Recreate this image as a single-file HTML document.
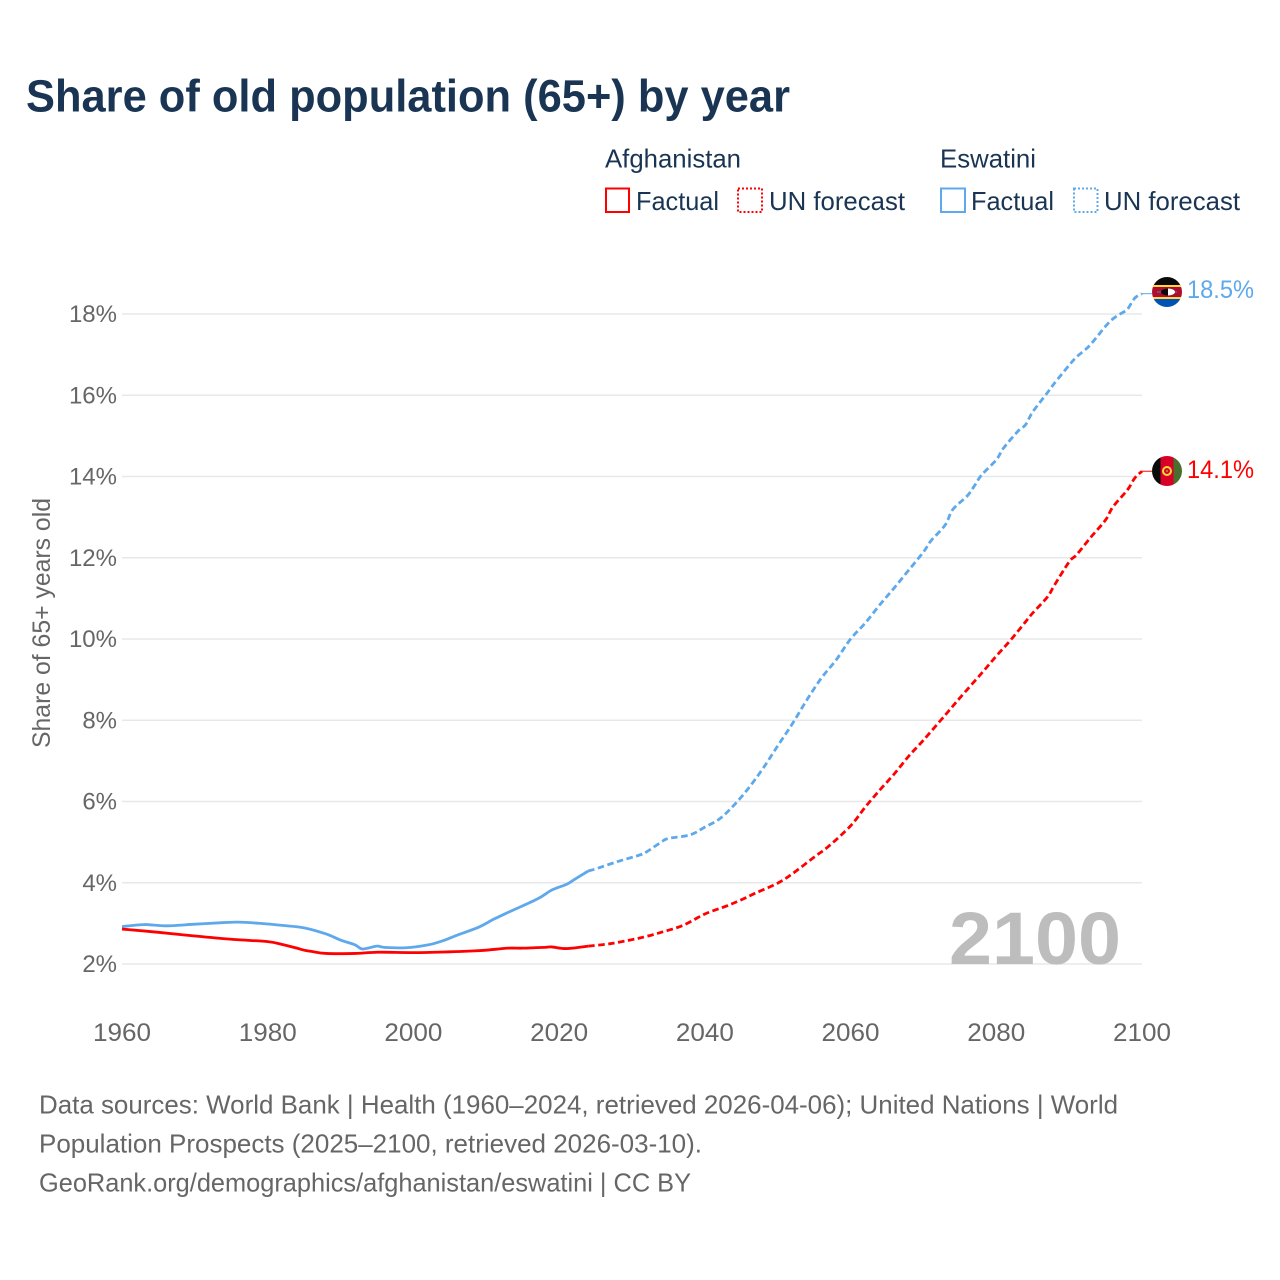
<!DOCTYPE html>
<html lang="en">
<head>
<meta charset="utf-8">
<title>Share of old population (65+) by year</title>
<style>
html,body{margin:0;padding:0;background:#fff;}
svg{display:block;font-family:"Liberation Sans",sans-serif;}
</style>
</head>
<body>
<svg id="chart" xmlns="http://www.w3.org/2000/svg" width="1280" height="1280" viewBox="0 0 1280 1280">
  <defs>
    <clipPath id="flag-clip-top"><circle cx="1167" cy="292" r="15"/></clipPath>
    <clipPath id="flag-clip-bottom"><circle cx="1167" cy="471" r="15"/></clipPath>
  </defs>
  <text x="26" y="111.500" font-size="45" font-weight="700" fill="#1a3553" textLength="764" lengthAdjust="spacingAndGlyphs">Share of old population (65+) by year</text>

  <g font-size="26" fill="#1a3553">
    <text x="605" y="167.500" textLength="136" lengthAdjust="spacingAndGlyphs">Afghanistan</text>
    <text x="940" y="167.500" textLength="96" lengthAdjust="spacingAndGlyphs">Eswatini</text>
    <rect x="606" y="188.500" width="23" height="23.500" fill="none" stroke="#ff0000" stroke-width="2"/>
    <text x="636" y="210" textLength="83" lengthAdjust="spacingAndGlyphs">Factual</text>
    <rect x="738" y="188.500" width="24" height="23.500" fill="none" stroke="#ff0000" stroke-width="2" stroke-dasharray="2 2"/>
    <text x="769" y="210" textLength="136" lengthAdjust="spacingAndGlyphs">UN forecast</text>
    <rect x="941" y="188.500" width="24" height="23.500" fill="none" stroke="#5ea8ec" stroke-width="2"/>
    <text x="971" y="210" textLength="83" lengthAdjust="spacingAndGlyphs">Factual</text>
    <rect x="1074" y="188.500" width="23.500" height="23.500" fill="none" stroke="#5ea8ec" stroke-width="2" stroke-dasharray="2 2"/>
    <text x="1104" y="210" textLength="136" lengthAdjust="spacingAndGlyphs">UN forecast</text>
  </g>

  <g id="grid"></g>
  <g id="y-ticks" font-size="24" fill="#666666"></g>
  <g id="x-ticks" font-size="25" fill="#666666"></g>
  <text transform="translate(50,623) rotate(-90)" text-anchor="middle" font-size="25" fill="#666666" textLength="250" lengthAdjust="spacingAndGlyphs">Share of 65+ years old</text>
  <text x="949" y="964" font-size="74" font-weight="700" fill="#bdbdbd" textLength="172" lengthAdjust="spacingAndGlyphs">2100</text>

  <g id="series"></g>

  <g clip-path="url(#flag-clip-top)">
    <rect x="1152" y="277" width="30" height="9" fill="#0a0a0a"/>
    <rect x="1152" y="285" width="30" height="2" fill="#ffd83d"/>
    <rect x="1152" y="287" width="30" height="10" fill="#b10c2e"/>
    <rect x="1152" y="297" width="30" height="2" fill="#ffd83d"/>
    <rect x="1152" y="299" width="30" height="9" fill="#0052b4"/>
    <rect x="1157" y="291.500" width="20" height="1" fill="#3a8fb5"/>
    <ellipse cx="1168" cy="292" rx="7" ry="3.500" fill="#0a0a0a"/>
    <path d="M1168 288.500 A7 3.500 0 0 1 1168 295.500 Z" fill="#ffffff"/>
  </g>
  <g clip-path="url(#flag-clip-bottom)">
    <rect x="1152" y="456" width="8.500" height="30" fill="#0a0a0a"/>
    <rect x="1160.500" y="456" width="13" height="30" fill="#d80027"/>
    <rect x="1173.500" y="456" width="8.500" height="30" fill="#496e2d"/>
    <circle cx="1167" cy="471" r="4" fill="none" stroke="#ffd83d" stroke-width="2"/>
    <circle cx="1167" cy="471" r="1.200" fill="#a8842c"/>
  </g>
  <text x="1187" y="298" font-size="25" fill="#5ea8ec" textLength="67" lengthAdjust="spacingAndGlyphs">18.5%</text>
  <text x="1187" y="478" font-size="25" fill="#ff0000" textLength="67" lengthAdjust="spacingAndGlyphs">14.1%</text>

  <g font-size="26" fill="#666666">
    <text x="39" y="1113.500" textLength="1079" lengthAdjust="spacingAndGlyphs">Data sources: World Bank | Health (1960–2024, retrieved 2026-04-06); United Nations | World</text>
    <text x="39" y="1152.500" textLength="663" lengthAdjust="spacingAndGlyphs">Population Prospects (2025–2100, retrieved 2026-03-10).</text>
    <text x="39" y="1191.500" textLength="652" lengthAdjust="spacingAndGlyphs">GeoRank.org/demographics/afghanistan/eswatini | CC BY</text>
  </g>
</svg>
<script>
const xTickYears = [1960, 1980, 2000, 2020, 2040, 2060, 2080, 2100];
const yTickValues = [2, 4, 6, 8, 10, 12, 14, 16, 18];

const afgFactualYears = [1960,1965,1970,1975,1980,1982,1984,1985,1986,1988,1992,1995,2000,2005,2008,2010,2013,2015,2018,2019,2021,2024];
const afgFactualValues = [2.86,2.78,2.69,2.61,2.55,2.48,2.39,2.34,2.31,2.26,2.26,2.29,2.28,2.30,2.32,2.34,2.39,2.39,2.41,2.42,2.38,2.44];

const afgForecastYears = [2024,2027,2030,2032,2034,2037,2040,2043,2045,2047,2050,2052,2055,2057,2060,2062,2064,2066,2068,2070,2073,2075,2078,2080,2082,2084,2085,2087,2088,2090,2091,2093,2095,2096,2098,2099,2100];
const afgForecastValues = [2.44,2.50,2.60,2.68,2.78,2.95,3.23,3.43,3.58,3.75,3.99,4.22,4.63,4.90,5.40,5.86,6.28,6.68,7.12,7.51,8.13,8.55,9.16,9.58,9.98,10.42,10.64,11.03,11.33,11.90,12.07,12.51,12.93,13.25,13.67,13.96,14.13];

const eswFactualYears = [1960,1963,1966,1970,1974,1976,1979,1982,1985,1988,1990,1992,1993,1995,1996,1999,2002,2004,2006,2009,2011,2013,2017,2019,2021,2022,2023,2024];
const eswFactualValues = [2.92,2.97,2.94,2.98,3.02,3.03,3.00,2.95,2.89,2.74,2.59,2.47,2.37,2.44,2.41,2.40,2.47,2.57,2.71,2.91,3.10,3.27,3.60,3.82,3.96,4.07,4.18,4.29];

const eswForecastYears = [2024,2025,2028,2031,2032,2034,2035,2038,2040,2042,2044,2046,2048,2050,2052,2054,2056,2058,2060,2062,2064,2066,2068,2070,2071,2073,2074,2076,2077,2078,2080,2081,2083,2084,2085,2087,2088,2090,2091,2092,2093,2095,2096,2097,2098,2099,2100];
const eswForecastValues = [4.29,4.34,4.52,4.68,4.76,5.00,5.09,5.18,5.37,5.57,5.91,6.33,6.82,7.37,7.91,8.50,9.04,9.48,10.00,10.39,10.84,11.26,11.70,12.14,12.41,12.81,13.18,13.52,13.77,14.04,14.41,14.70,15.12,15.27,15.59,16.06,16.30,16.74,16.94,17.09,17.26,17.70,17.88,18.00,18.12,18.39,18.50];

const svgNS = 'http://www.w3.org/2000/svg';
function xScale(year) { return 122 + (year - 1960) * (1020 / 140); }
function yScale(value) { return 964 - (value - 2) * (650 / 16); }
function pathFrom(years, values) {
  const pts = years.map(function (yr, i) { return [xScale(yr), yScale(values[i])]; });
  let d = 'M' + pts[0][0].toFixed(2) + ' ' + pts[0][1].toFixed(2);
  for (let i = 0; i < pts.length - 1; i++) {
    const p0 = pts[Math.max(i - 1, 0)];
    const p1 = pts[i];
    const p2 = pts[i + 1];
    const p3 = pts[Math.min(i + 2, pts.length - 1)];
    const c1x = p1[0] + (p2[0] - p0[0]) / 6;
    const c1y = p1[1] + (p2[1] - p0[1]) / 6;
    const c2x = p2[0] - (p3[0] - p1[0]) / 6;
    const c2y = p2[1] - (p3[1] - p1[1]) / 6;
    d += ' C' + c1x.toFixed(2) + ' ' + c1y.toFixed(2) + ' ' + c2x.toFixed(2) + ' ' + c2y.toFixed(2) + ' ' + p2[0].toFixed(2) + ' ' + p2[1].toFixed(2);
  }
  return d;
}

const gridGroup = document.getElementById('grid');
const yTickGroup = document.getElementById('y-ticks');
const xTickGroup = document.getElementById('x-ticks');
const seriesGroup = document.getElementById('series');

yTickValues.forEach(function (v) {
  const line = document.createElementNS(svgNS, 'line');
  
  
  line.setAttribute('x1', 122);
  line.setAttribute('x2', 1142);
  line.setAttribute('y1', yScale(v));
  line.setAttribute('y2', yScale(v));
  line.setAttribute('stroke', '#e8e8e8');
  line.setAttribute('stroke-width', '1.5');
  gridGroup.appendChild(line);

  const label = document.createElementNS(svgNS, 'text');
  
  
  label.setAttribute('x', 117);
  label.setAttribute('y', yScale(v) + 8);
  label.setAttribute('text-anchor', 'end');
  label.textContent = v + '%';
  yTickGroup.appendChild(label);
});

xTickYears.forEach(function (yr) {
  const label = document.createElementNS(svgNS, 'text');
  
  
  label.setAttribute('x', xScale(yr));
  label.setAttribute('y', 1041);
  label.setAttribute('text-anchor', 'middle');
  label.setAttribute('textLength', '58');
  label.setAttribute('lengthAdjust', 'spacingAndGlyphs');
  label.textContent = yr;
  xTickGroup.appendChild(label);
});

function drawLine(name, years, values, color, dash) {
  const p = document.createElementNS(svgNS, 'path');
  
  
  p.setAttribute('d', pathFrom(years, values));
  p.setAttribute('fill', 'none');
  p.setAttribute('stroke', color);
  p.setAttribute('stroke-width', '2.8');
  p.setAttribute('stroke-linejoin', 'round');
  if (dash) p.setAttribute('stroke-dasharray', dash);
  seriesGroup.appendChild(p);
}
function drawConnector(name, lastValue, color) {
  const c = document.createElementNS(svgNS, 'line');
  
  
  c.setAttribute('x1', xScale(2100));
  c.setAttribute('x2', xScale(2100) + 10);
  c.setAttribute('y1', yScale(lastValue));
  c.setAttribute('y2', yScale(lastValue));
  c.setAttribute('stroke', color);
  c.setAttribute('stroke-width', '1');
  seriesGroup.appendChild(c);
}

const blue = '#5ea8ec';
const red = '#ff0000';
drawLine('eswatini-forecast-line', eswForecastYears, eswForecastValues, blue, '6.5 3.5');
drawLine('eswatini-factual-line', eswFactualYears, eswFactualValues, blue, null);
drawLine('afghanistan-forecast-line', afgForecastYears, afgForecastValues, red, '6.5 3.5');
drawLine('afghanistan-factual-line', afgFactualYears, afgFactualValues, red, null);
drawConnector('eswatini-end-connector', eswForecastValues[eswForecastValues.length - 1], blue);
drawConnector('afghanistan-end-connector', afgForecastValues[afgForecastValues.length - 1], red);
</script>
</body>
</html>
